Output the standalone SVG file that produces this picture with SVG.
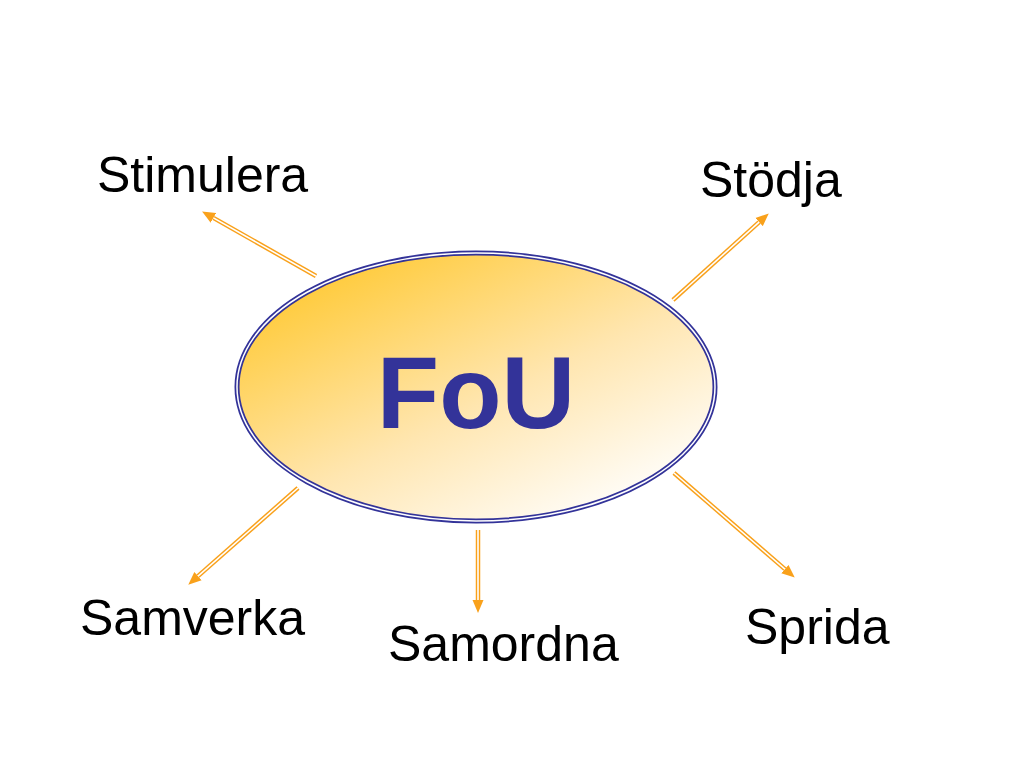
<svg xmlns="http://www.w3.org/2000/svg" width="1024" height="768" viewBox="0 0 1024 768">
<defs>
<linearGradient id="g" x1="0.1" y1="0.1" x2="0.85" y2="0.95">
<stop offset="0" stop-color="#FFC933"/>
<stop offset="0.55" stop-color="#FFE6B0"/>
<stop offset="1" stop-color="#FFFFFF"/>
</linearGradient>
<marker id="ah" markerUnits="userSpaceOnUse" markerWidth="14" markerHeight="12" viewBox="0 -6 14 12" refX="0" refY="0" orient="auto">
<path d="M0,-5.5 L13,0 L0,5.5 z" fill="#F9A11B"/>
</marker>
<style>
.o{stroke:#F9A11B;stroke-width:4.5;fill:none;marker-end:url(#ah)}
.w{stroke:#FFFFFF;stroke-width:1.6;fill:none}
.lbl{font-family:"Liberation Sans",Arial,sans-serif;font-size:50px;fill:#000}
</style>
</defs>
<rect width="1024" height="768" fill="#FFFFFF"/>
<g id="connectors">
<line class="o" x1="316" y1="276" x2="213.4" y2="217.9"/>
<line class="w" x1="316" y1="276" x2="213.4" y2="217.9"/>
<line class="o" x1="673" y1="300" x2="759.1" y2="222.1"/>
<line class="w" x1="673" y1="300" x2="759.1" y2="222.1"/>
<line class="o" x1="298" y1="488" x2="198" y2="576.1"/>
<line class="w" x1="298" y1="488" x2="198" y2="576.1"/>
<line class="o" x1="478" y1="530" x2="478" y2="600"/>
<line class="w" x1="478" y1="530" x2="478" y2="600"/>
<line class="o" x1="674" y1="473" x2="784.9" y2="569.1"/>
<line class="w" x1="674" y1="473" x2="784.9" y2="569.1"/>
</g>
<g id="fou">
<ellipse cx="476" cy="387" rx="239" ry="134" fill="url(#g)" stroke="#333399" stroke-width="5"/>
<ellipse cx="476" cy="387" rx="239" ry="134" fill="none" stroke="#FFFFFF" stroke-width="1.5"/>
<text x="476" y="428" text-anchor="middle" font-family="Liberation Sans,Arial,sans-serif" font-weight="bold" font-size="102" fill="#333399">FoU</text>
</g>
<g id="stimulera"><text class="lbl" x="97" y="192">Stimulera</text></g>
<g id="stodja"><text class="lbl" x="700" y="197">Stödja</text></g>
<g id="samverka"><text class="lbl" x="80" y="635">Samverka</text></g>
<g id="samordna"><text class="lbl" x="388" y="661">Samordna</text></g>
<g id="sprida"><text class="lbl" x="745" y="644">Sprida</text></g>
</svg>
